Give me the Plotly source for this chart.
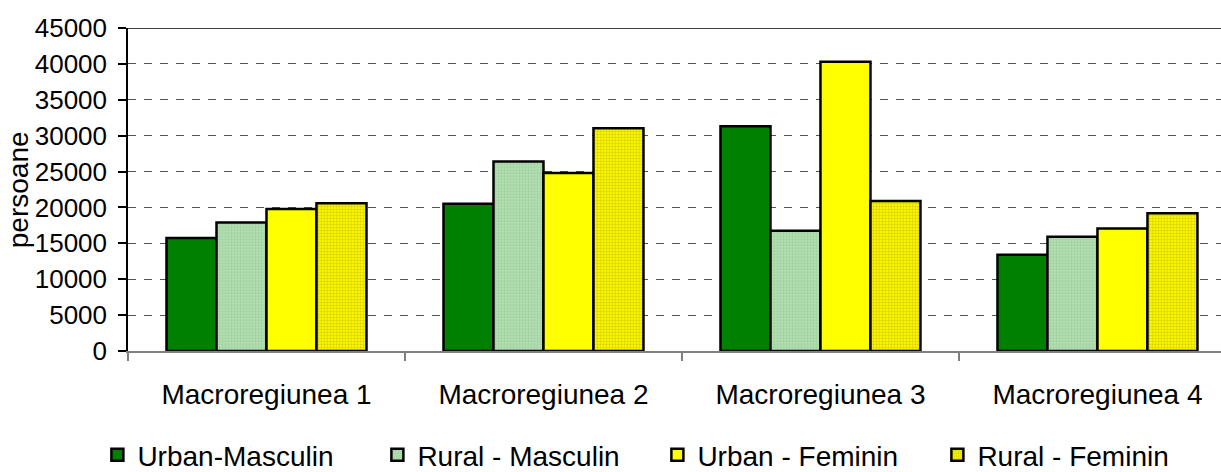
import plotly.graph_objects as go

categories = ["Macroregiunea 1", "Macroregiunea 2", "Macroregiunea 3", "Macroregiunea 4"]
urban_masculin = [15750, 20500, 31300, 13400]
rural_masculin = [17900, 26400, 16750, 15900]
urban_feminin = [19800, 24800, 40300, 17050]
rural_feminin = [20600, 31050, 20900, 19200]
series_names = ["Urban-Masculin", "Rural - Masculin", "Urban - Feminin", "Rural - Feminin"]
y_ticks = [0, 5000, 10000, 15000, 20000, 25000, 30000, 35000, 40000, 45000]
y_title = "persoane"

FONT = "Liberation Sans, Arial, sans-serif"

fig = go.Figure()
styles = [
    dict(color="#008000"),
    dict(color="#a8d8a8", pattern=dict(shape=".", bgcolor="#b4dfb4", fgcolor="#8cc48c", size=3, solidity=0.45)),
    dict(color="#ffff00"),
    dict(color="#e8d800", pattern=dict(shape=".", bgcolor="#ffff00", fgcolor="#b8a400", size=3, solidity=0.5)),
]
for name, vals, st in zip(series_names, [urban_masculin, rural_masculin, urban_feminin, rural_feminin], styles):
    marker = dict(line=dict(color="#000000", width=2.5), **st)
    fig.add_trace(go.Bar(name=name, x=categories, y=vals, marker=marker))

fig.update_layout(
    width=1221, height=472,
    margin=dict(l=128, r=0, t=28, b=121, autoexpand=False),
    paper_bgcolor="white", plot_bgcolor="white",
    barmode="group", bargap=0.278, bargroupgap=0,
    font=dict(family=FONT, color="#000000", size=26),
    showlegend=True,
    legend=dict(
        orientation="h", x=-0.028, xanchor="left", y=-0.245, yanchor="top",
        entrywidth=235, font=dict(size=28, family=FONT), traceorder="normal",
        itemwidth=30, bgcolor="rgba(0,0,0,0)",
    ),
    xaxis=dict(
        type="category", range=[-0.5, 3.446], showgrid=False, automargin=False,
        showline=True, linecolor="#808080", linewidth=1.5,
        ticks="outside", tickson="boundaries", ticklen=8, tickcolor="#808080", tickwidth=1.5,
        tickfont=dict(size=28, family=FONT), ticklabelstandoff=18,
        zeroline=False,
    ),
    yaxis=dict(
        range=[0, 45000], tickvals=y_ticks, ticktext=[str(v) for v in y_ticks], automargin=False,
        showline=True, linecolor="#000000", linewidth=1.5,
        ticks="outside", ticklen=8, tickcolor="#000000", tickwidth=1.5,
        tickfont=dict(size=26, family=FONT), ticklabelstandoff=6,
        showgrid=True, gridcolor="#555555", griddash="8px,8px", gridwidth=1,
        zeroline=False,
    ),
    annotations=[dict(
        text=y_title, xref="paper", yref="paper", x=-0.1, y=0.5,
        xanchor="center", yanchor="middle", textangle=-90, showarrow=False,
        font=dict(size=28, family=FONT, color="#000000"),
    )],
)
fig.add_shape(type="line", xref="paper", yref="y", x0=0, x1=1, y0=y_ticks[-1], y1=y_ticks[-1],
              line=dict(color="#000000", width=1.5), layer="below")

# remove the browser's default 8px body margin so the figure fills the window
fig.write_html("out.html", config={"displayModeBar": False},
               post_script="document.body.style.margin='0';")
